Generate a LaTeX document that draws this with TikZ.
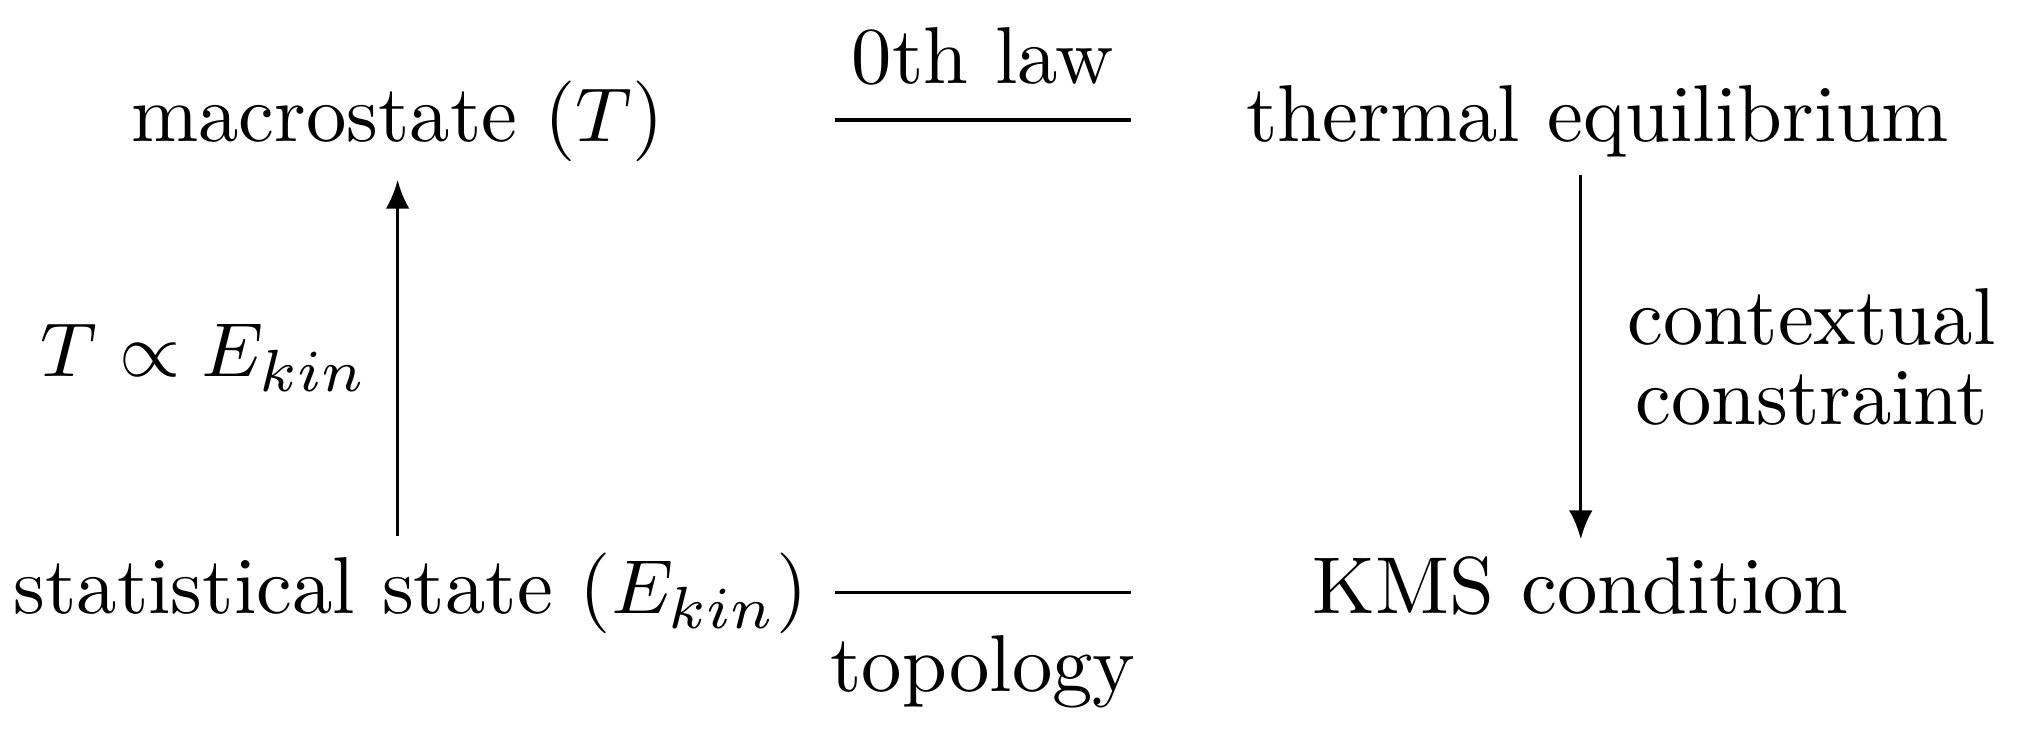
\documentclass[tikz,border=0pt]{standalone}
\usetikzlibrary{arrows.meta}
\begin{document}
\begin{tikzpicture}[font=\fontsize{9.5pt}{11pt}\selectfont,
	state/.style={inner sep=1.9pt, anchor=base},
	>={Latex[length=3.4pt,width=2.8pt]}]
		\useasboundingbox (0,0) rectangle (8.444,3.094);

		% Corners of the square
		\node[state] (mac) at (1.645,2.507) {macrostate ($T$)};
		\node[state] (therm) at (6.61,2.507) {thermal equilibrium};
		\node[state] (stat) at (1.70,0.554) {statistical state ($E_{kin}$)};
		\node[state] (kms) at (6.54,0.554) {KMS condition};

		% Ends of the plain lines
		\coordinate (top1) at (3.454,2.598);
		\coordinate (top2) at (4.679,2.598);
		\coordinate (bot1) at (3.454,0.642);
		\coordinate (bot2) at (4.679,0.642);

		% Plain lines
		\draw (top1) -- (top2) node[midway, above=0.5pt] {0th law};
		\draw (bot1) -- (bot2) node[midway, below=1.5pt] {topology};

		% Arrows
		\draw[->] (stat.north -| mac) -- (mac) node[midway, left] {$T \propto E_{kin}$};
		\draw[->] (kms |- therm.south) -- (kms)
			node[midway, right=2pt, align=center] {contextual\\[-1.6pt]constraint};
	\end{tikzpicture}
\end{document}
